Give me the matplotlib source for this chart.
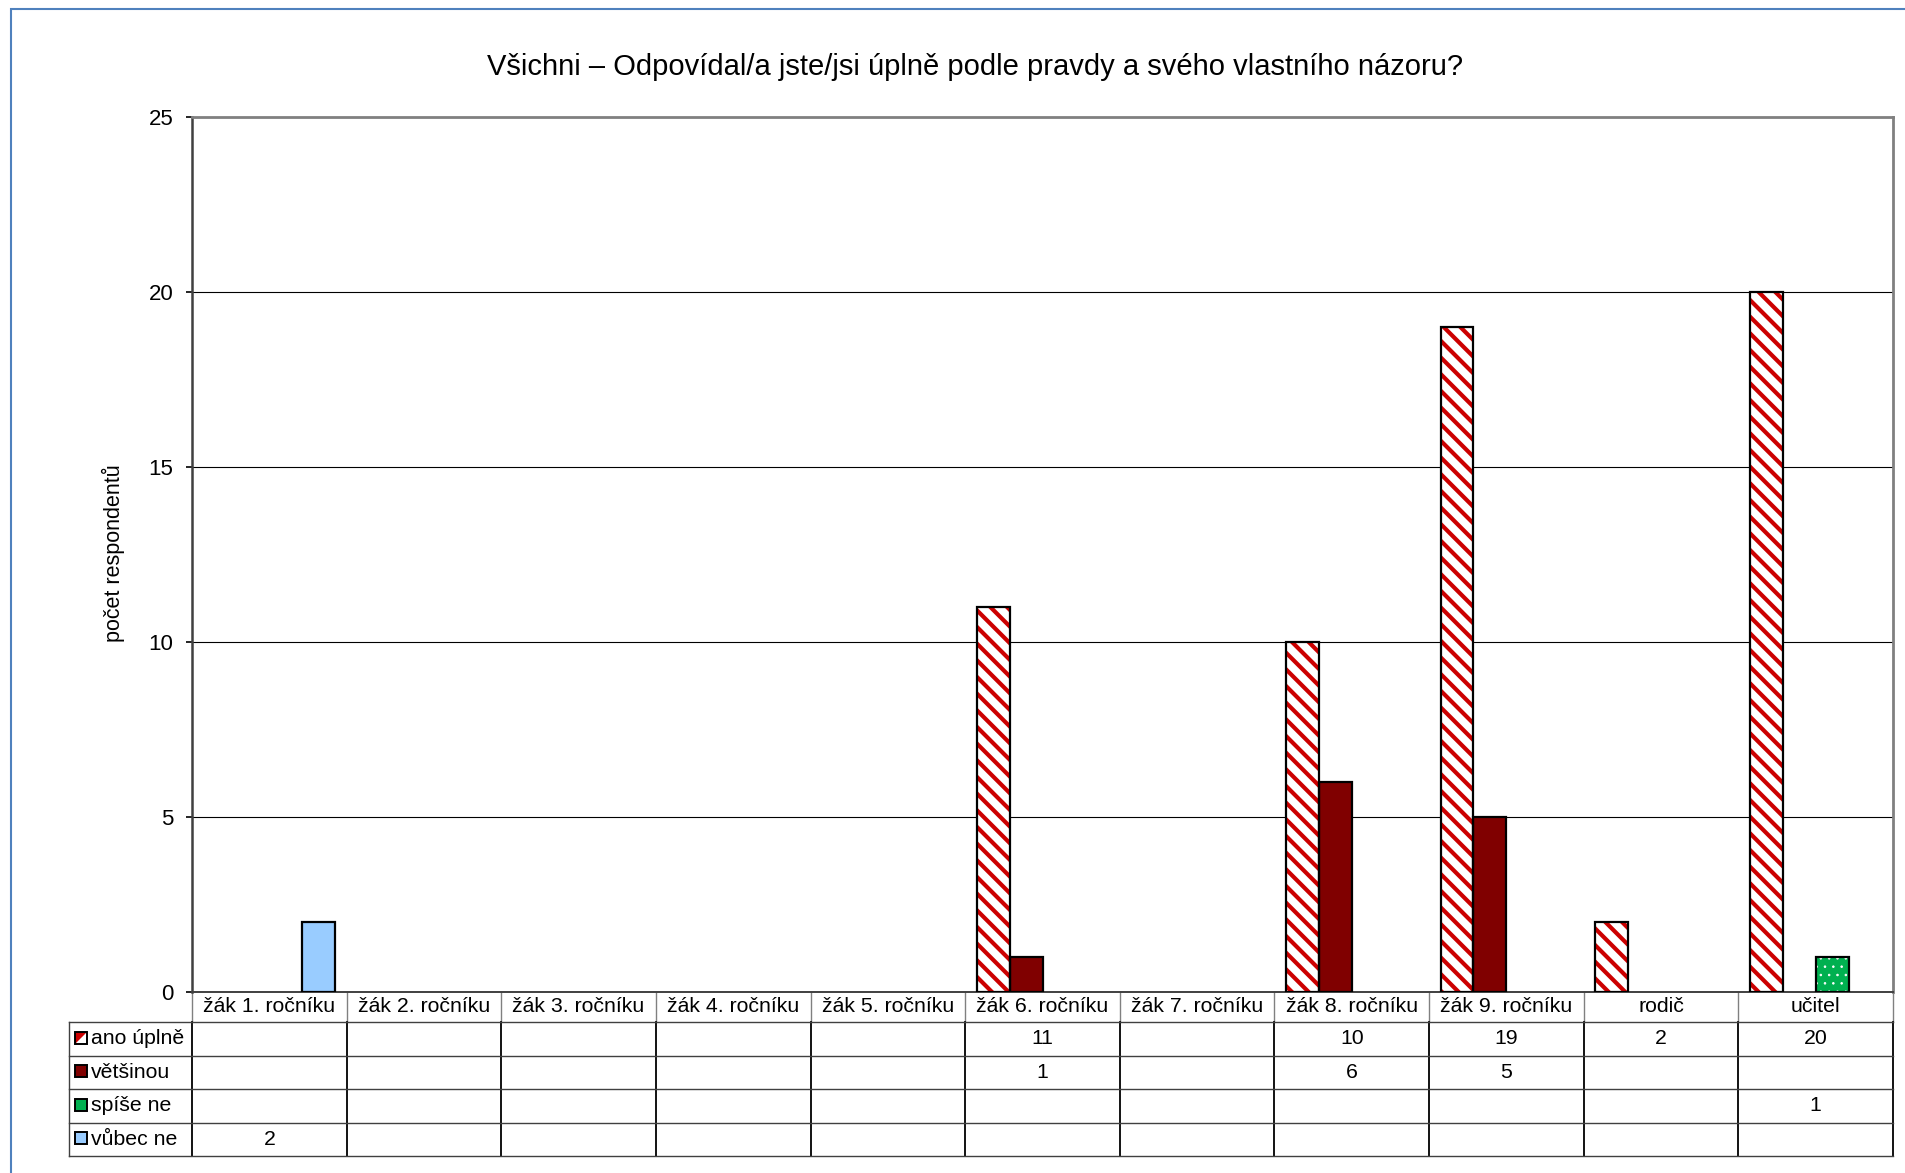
"""
Všichni – Odpovídal/a jste/jsi úplně podle pravdy a svého vlastního názoru?
Sloupcový graf s datovou tabulkou pod osou (styl Excelu).
"""
import numpy as np
import matplotlib
matplotlib.use('Agg')
import matplotlib.pyplot as plt
from matplotlib import transforms
from matplotlib.patches import Rectangle, Polygon
from matplotlib.lines import Line2D

plt.rcParams['font.family'] = ['Liberation Sans', 'DejaVu Sans']
plt.rcParams['hatch.linewidth'] = 3.0

# ============================================================
# Data
# ============================================================
categories = ['žák 1. ročníku', 'žák 2. ročníku', 'žák 3. ročníku', 'žák 4. ročníku',
              'žák 5. ročníku', 'žák 6. ročníku', 'žák 7. ročníku', 'žák 8. ročníku',
              'žák 9. ročníku', 'rodič', 'učitel']
nan = np.nan
ano_uplne = [nan, nan, nan, nan, nan, 11, nan, 10, 19, 2, 20]
vetsinou = [nan, nan, nan, nan, nan, 1, nan, 6, 5, nan, nan]
spise_ne = [nan, nan, nan, nan, nan, nan, nan, nan, nan, nan, 1]
vubec_ne = [2, nan, nan, nan, nan, nan, nan, nan, nan, nan, nan]
series_names = ['ano úplně', 'většinou', 'spíše ne', 'vůbec ne']
series_values = [ano_uplne, vetsinou, spise_ne, vubec_ne]

title = 'Všichni – Odpovídal/a jste/jsi úplně podle pravdy a svého vlastního názoru?'
ylabel = 'počet respondentů'
yticks = [0, 5, 10, 15, 20, 25]

# styl sérií: (výplň, barva šrafy, šrafa, tloušťka šrafy)
styles = [
    ('white', '#CC0000', '\\\\', 3.0),
    ('#800000', '#800000', '', 1.0),
    ('#00B050', 'white', '..', 0.6),
    ('#99CCFF', '#99CCFF', '', 1.0),
]

# ============================================================
# Figure
# ============================================================
W, H = 1906, 1173
fig = plt.figure(figsize=(W / 100, H / 100), dpi=100)
ax = fig.add_axes([192 / W, 1 - 992 / H, (1893 - 192) / W, (992 - 117) / H])

n = len(categories)
x = np.arange(n)
w = 0.213
offsets = (np.arange(4) - 1.5) * w

for vals, off, (fc, hc, hatch, hlw) in zip(series_values, offsets, styles):
    vals = np.array(vals, dtype=float)
    mask = ~np.isnan(vals)
    bars = ax.bar(x[mask] + off, vals[mask], w, color=fc, edgecolor=hc, hatch=hatch,
                  linewidth=0, zorder=3)
    for p in bars:
        if hasattr(p, 'set_hatch_linewidth'):
            p.set_hatch_linewidth(hlw)
    ax.bar(x[mask] + off, vals[mask], w, fill=False, edgecolor='black',
           linewidth=1.6, zorder=4)

ax.set_xlim(-0.5, n - 0.5)
ax.set_ylim(0, 25)
ax.set_yticks(yticks)
ax.set_yticklabels([str(t) for t in yticks], fontsize=16)
ax.tick_params(axis='y', direction='out', length=4.5, width=1.2, pad=9, colors='black')
ax.set_xticks([])
ax.grid(axis='y', color='black', linewidth=0.8, zorder=0)
ax.set_axisbelow(True)
for side in ['top', 'right']:
    ax.spines[side].set_color('#808080')
    ax.spines[side].set_linewidth(2)
ax.spines['left'].set_color('#404040')
ax.spines['left'].set_linewidth(1.8)
ax.spines['bottom'].set_color('#404040')
ax.spines['bottom'].set_linewidth(1.4)

fig.text(975 / W, 1 - 67 / H, title, ha='center', va='center', fontsize=21)
fig.text(113 / W, 1 - 553 / H, ylabel, ha='center', va='center', rotation=90, fontsize=15.5)

# ============================================================
# Datová tabulka pod grafem
# ============================================================
tr = transforms.blended_transform_factory(ax.transData, ax.transAxes)
tr_ax = ax.transAxes
ax_w = 1893 - 192
ax_h = 992 - 117
header_h = 30 / ax_h
row_h = 33.5 / ax_h
x_left_ax = (69 - 192) / ax_w
fs = 15.3

def hline(y, x0, x1, trans, color='#404040', lw=1.0):
    ax.add_line(Line2D([x0, x1], [y, y], transform=trans, color=color, lw=lw, clip_on=False))

def vline(xv, y0, y1, trans, color='black', lw=1.3):
    ax.add_line(Line2D([xv, xv], [y0, y1], transform=trans, color=color, lw=lw, clip_on=False))

y_header_bot = -header_h
y_bottom = -header_h - 4 * row_h

# hlavička s kategoriemi
for i, cat in enumerate(categories):
    ax.text(i, -header_h / 2, cat, transform=tr, ha='center', va='center', fontsize=fs)
for b in np.arange(n + 1) - 0.5:
    vline(b, 0, y_header_bot, tr, color='#808080', lw=1.0)
    vline(b, y_header_bot, y_bottom, tr, color='black', lw=1.3)

# řádky
for r in range(5):
    y = y_header_bot - r * row_h
    hline(y, x_left_ax, 1, tr_ax)
vline(x_left_ax, y_header_bot, y_bottom, tr_ax, color='#404040', lw=1.0)

ks = 12 / ax_w
ksy = 12 / ax_h
kx = x_left_ax + 6 / ax_w
for r, (name, vals, (fc, hc, hatch, hlw)) in enumerate(zip(series_names, series_values, styles)):
    yc = y_header_bot - (r + 0.5) * row_h
    ky = yc - ksy / 2 + 1 / ax_h
    # klíč legendy
    if hatch == '\\\\':
        ax.add_patch(Rectangle((kx, ky), ks, ksy, transform=tr_ax,
                               facecolor='white', edgecolor='none', clip_on=False))
        ax.add_patch(Polygon([(kx, ky), (kx, ky + ksy), (kx + ks, ky + ksy)], closed=True,
                             transform=tr_ax, facecolor='#CC0000', edgecolor='none',
                             clip_on=False))
    else:
        ax.add_patch(Rectangle((kx, ky), ks, ksy, transform=tr_ax,
                               facecolor=fc, edgecolor='none', clip_on=False))
    ax.add_patch(Rectangle((kx, ky), ks, ksy, transform=tr_ax,
                           fill=False, edgecolor='black', lw=1.4, clip_on=False))
    ax.text(kx + ks + 4 / ax_w, yc, name, transform=tr_ax, ha='left', va='center', fontsize=fs)
    for i, v in enumerate(vals):
        if not np.isnan(v):
            ax.text(i, yc, f'{int(v)}', transform=tr, ha='center', va='center', fontsize=fs)

# modrý rámeček grafu
fig.add_artist(Rectangle((11 / W, -0.1), 1.2, 1.1 - 9 / H, transform=fig.transFigure,
                         fill=False, edgecolor='#4F81BD', lw=1.5))

plt.savefig('out.png', dpi=100)
